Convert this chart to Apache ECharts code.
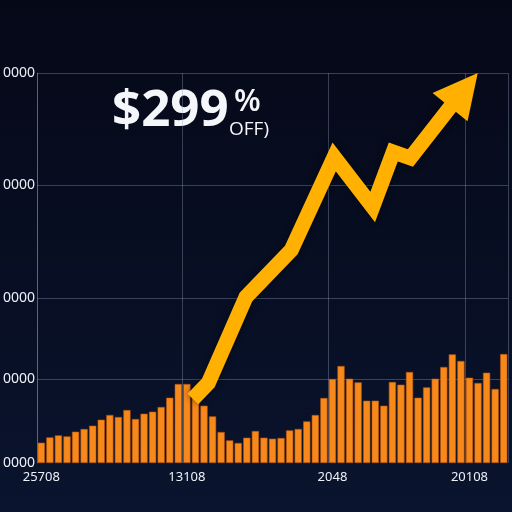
<!DOCTYPE html>
<html>
<head>
<meta charset="utf-8">
<script src="https://cdn.jsdelivr.net/npm/echarts@6/dist/echarts.min.js"></script>
<style>
  html, body { margin: 0; padding: 0; background: #070c1f; }
  #chart { width: 512px; height: 512px; }
</style>
</head>
<body>
<div id="chart"></div>
<script>
// bar heights
var barValues = [2030, 2560, 2760, 2660, 3130, 3400, 3730, 4330, 4800, 4600, 5300, 4400, 4930, 5130,
  5600, 6530, 7900, 7900, 7160, 5730, 4660, 3100, 2260, 2000, 2530, 3200, 2530, 2430, 2500, 3260,
  3400, 4160, 4800, 6500, 8400, 9700, 8430, 8060, 6230, 6230, 5730, 8100, 7830, 9100, 6530, 7560,
  8430, 9600, 10860, 10200, 8530, 8000, 9030, 7400, 10900];

// x tick labels and where they sit
var xLabels = ['25708', '13108', '2048', '20108'];
var xLabelIdx = [0, 17, 34, 50];

// y ticks (uneven spacing) and their labels
var yTicks = [0, 8400, 16500, 27800, 39000];
var yTickLabels = ['0000', '0000', '0000', '0000', '0000'];

// trend arrow path (x in bar slots, y in axis units)
var arrowX = [18.2, 20.0, 24.4, 29.7, 34.7, 39.2, 41.6, 43.6, 48.8];
var arrowY = [6400, 8000, 16600, 21300, 30600, 25600, 31100, 30500, 36200];
var arrowHead = [49.85, 37300];

var categories = barValues.map(function (v, i) {
  var k = xLabelIdx.indexOf(i);
  return k >= 0 ? xLabels[k] : '';
});
var arrowData = arrowX.map(function (x, i) { return [x, arrowY[i]]; });

var chart = echarts.init(document.getElementById('chart'));
var gridColor = 'rgba(150,165,195,0.35)';
var textColor = '#eef1f7';

var option = {
  backgroundColor: new echarts.graphic.LinearGradient(0, 0, 0, 1, [
    { offset: 0, color: '#050817' },
    { offset: 1, color: '#0a142e' }
  ]),
  animation: false,
  grid: { left: 34, right: 4, top: 73, bottom: 49 },
  xAxis: [
    {
      type: 'category',
      data: categories,
      boundaryGap: true,
      axisLine: { show: false },
      axisTick: { show: false },
      axisLabel: {
        interval: function (i) { return xLabelIdx.indexOf(i) >= 0; },
        color: textColor,
        fontSize: 13,
        fontFamily: 'Noto Sans',
        margin: 8
      },
      splitLine: {
        show: true,
        interval: function (i) { return xLabelIdx.indexOf(i) >= 0; },
        lineStyle: { color: gridColor, width: 1 }
      }
    },
    {
      type: 'value',
      min: 0,
      max: barValues.length,
      show: false
    }
  ],
  yAxis: {
    type: 'value',
    min: 0,
    max: 39000,
    axisLine: { show: true, lineStyle: { color: gridColor } },
    axisTick: { show: false },
    splitLine: { show: false },
    axisLabel: {
      customValues: yTicks,
      formatter: function (v) {
        var k = yTicks.indexOf(v);
        return k >= 0 ? yTickLabels[k] : '';
      },
      color: textColor,
      fontSize: 14,
      fontFamily: 'Noto Sans',
      margin: 2
    }
  },
  series: [
    {
      type: 'line',
      data: [],
      markLine: {
        silent: true,
        z: 1,
        symbol: 'none',
        label: { show: false },
        lineStyle: { color: gridColor, width: 1, type: 'solid' },
        data: yTicks.slice(1).map(function (v) { return { yAxis: v }; })
      }
    },
    {
      type: 'bar',
      z: 2,
      data: barValues,
      barCategoryGap: '16%',
      itemStyle: {
        color: '#f7891b',
        borderColor: '#b9560d',
        borderWidth: 0.6
      }
    },
    {
      type: 'line',
      xAxisIndex: 1,
      z: 4,
      data: arrowData,
      showSymbol: false,
      clip: false,
      lineStyle: {
        color: '#ffb000',
        width: 15,
        join: 'miter',
        cap: 'butt',
        shadowBlur: 6,
        shadowColor: 'rgba(0,0,0,0.5)'
      }
    },
    {
      type: 'scatter',
      xAxisIndex: 1,
      z: 5,
      data: [arrowHead],
      symbol: 'triangle',
      symbolSize: [45, 44],
      symbolRotate: -39,
      clip: false,
      itemStyle: { color: '#ffb000', opacity: 1 }
    }
  ],
  graphic: [
    {
      type: 'text',
      left: 112,
      top: 86,
      style: {
        text: '$299',
        fill: '#f4f6fa',
        font: 'bold 51px "Open Sans"'
      }
    },
    {
      type: 'text',
      left: 234,
      top: 87,
      style: {
        text: '%',
        fill: '#f4f6fa',
        font: '600 31px "Open Sans"'
      }
    },
    {
      type: 'text',
      left: 229,
      top: 120,
      style: {
        text: 'OFF)',
        fill: '#f4f6fa',
        font: '19px "Open Sans"'
      }
    }
  ]
};

chart.setOption(option);
</script>
</body>
</html>
